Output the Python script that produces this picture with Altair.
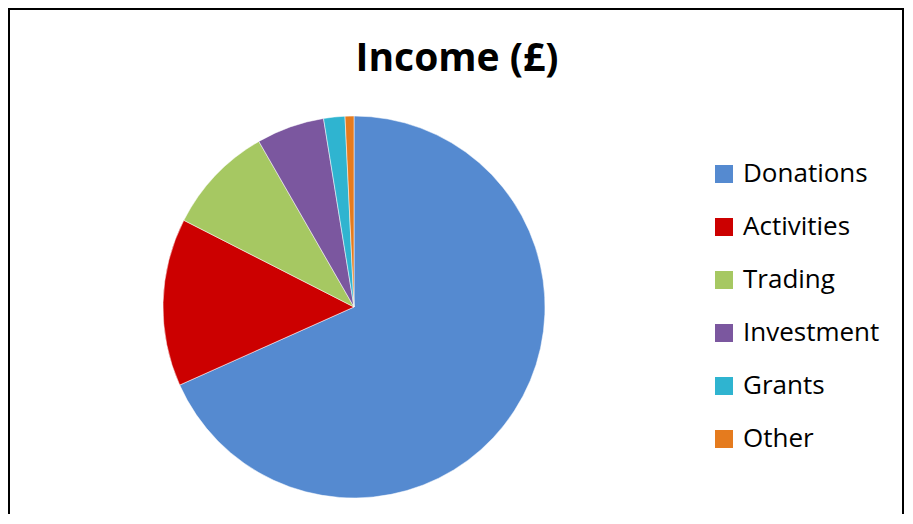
import altair as alt
import pandas as pd

categories = ["Donations", "Activities", "Trading", "Investment", "Grants", "Other"]
shares = [68.3, 14.2, 9.2, 5.75, 1.8, 0.75]
colors = ["#558AD0", "#CC0000", "#A6C862", "#7B579F", "#2FB4D0", "#E57B1E"]
title_text = "Income (£)"

df = pd.DataFrame({"category": categories, "share": shares, "order": list(range(len(categories)))})

W, H = 896, 506

pie = alt.Chart(df).mark_arc(radius=191, stroke="#ffffff", strokeWidth=1, strokeOpacity=0.5).encode(
    theta=alt.Theta("share:Q", stack=True),
    color=alt.Color(
        "category:N",
        scale=alt.Scale(domain=categories, range=colors),
        sort=categories,
        legend=alt.Legend(
            title=None,
            orient="none",
            legendX=703,
            legendY=153,
            symbolType="square",
            symbolSize=324,
            symbolStrokeWidth=0,
            labelFont="Open Sans",
            labelFontSize=26,
            labelColor="#000000",
            labelOffset=6,
            rowPadding=27,
            labelLimit=300,
        ),
    ),
    order=alt.Order("order:Q"),
    x=alt.value(346),
    y=alt.value(299),
)

one = pd.DataFrame({"a": [0]})
frame = alt.Chart(one).mark_rect(fill=None, stroke="#000000", strokeWidth=2).encode(
    x=alt.value(1), x2=alt.value(W - 1), y=alt.value(1), y2=alt.value(H + 40))

title = alt.Chart(pd.DataFrame({"t": [title_text]})).mark_text(
    font="Open Sans", fontSize=39, fontWeight="bold", color="#000000", baseline="alphabetic", align="center"
).encode(text="t:N", x=alt.value(449), y=alt.value(63))

chart = alt.layer(frame, pie, title).properties(
    width=W, height=H, padding=0, autosize=alt.AutoSizeParams(type="none")
).configure_view(strokeWidth=0, stroke="transparent")

chart.save("out.html", embed_options={"renderer": "svg", "actions": False})
